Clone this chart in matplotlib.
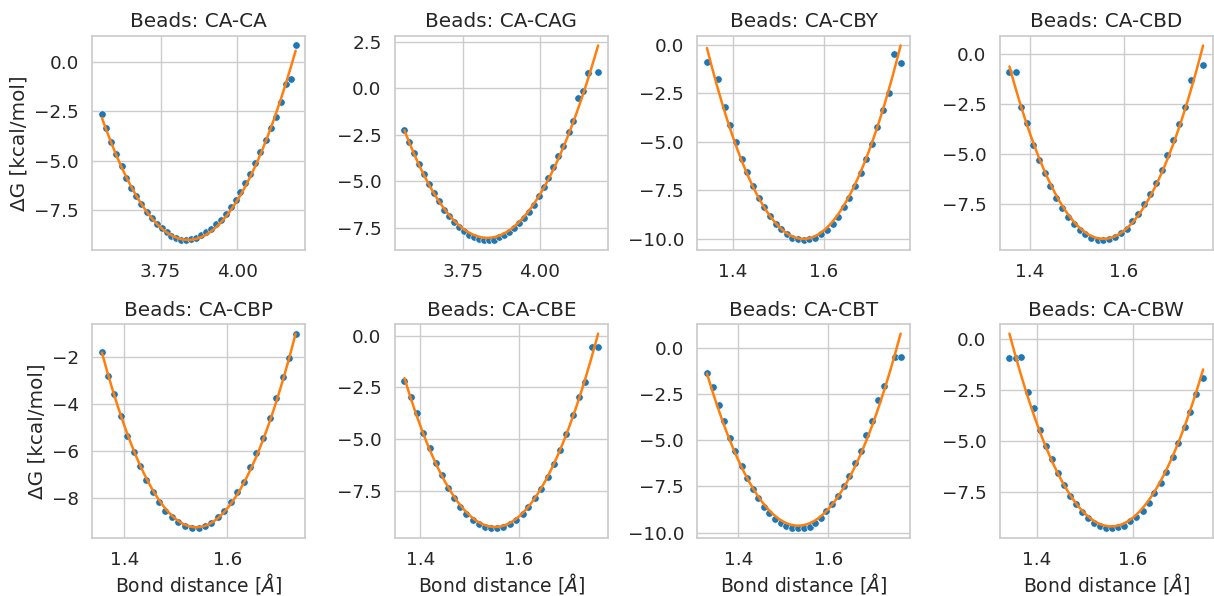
import numpy as np
import matplotlib
matplotlib.use("Agg")
import matplotlib.pyplot as plt
import seaborn as sns

titles = ["CA-CA", "CA-CAG", "CA-CBY", "CA-CBD", "CA-CBP", "CA-CBE", "CA-CBT", "CA-CBW"]

# binned free energy points
x_caca = [3.559, 3.573, 3.590, 3.605, 3.623, 3.638, 3.654, 3.671, 3.687, 3.705,
          3.722, 3.738, 3.754, 3.771, 3.785, 3.801, 3.817, 3.834, 3.850, 3.866,
          3.883, 3.899, 3.914, 3.932, 3.947, 3.963, 3.979, 3.995, 4.010, 4.026,
          4.042, 4.059, 4.075, 4.092, 4.110, 4.127, 4.143, 4.159, 4.175, 4.190]
y_caca = [-2.63, -3.36, -4.07, -4.68, -5.29, -5.86, -6.37, -6.81, -7.22, -7.59,
          -7.93, -8.20, -8.44, -8.64, -8.81, -8.93, -9.02, -9.05, -9.00, -8.92,
          -8.78, -8.64, -8.46, -8.24, -8.00, -7.71, -7.37, -7.00, -6.61, -6.15,
          -5.68, -5.14, -4.58, -3.97, -3.32, -2.76, -2.00, -1.12, -0.85, 0.85]

x_cacag = [3.560, 3.576, 3.592, 3.607, 3.622, 3.641, 3.657, 3.673, 3.689, 3.706,
           3.722, 3.738, 3.754, 3.771, 3.787, 3.803, 3.819, 3.835, 3.852, 3.868,
           3.884, 3.900, 3.917, 3.933, 3.948, 3.964, 3.981, 3.997, 4.013, 4.028,
           4.044, 4.061, 4.077, 4.094, 4.109, 4.124, 4.142, 4.158, 4.190]
y_cacag = [-2.27, -2.92, -3.49, -4.06, -4.62, -5.15, -5.65, -6.08, -6.53, -6.89,
           -7.19, -7.46, -7.69, -7.87, -8.01, -8.10, -8.16, -8.18, -8.14, -8.03,
           -7.91, -7.71, -7.50, -7.26, -6.98, -6.65, -6.28, -5.81, -5.33, -4.83,
           -4.22, -3.65, -3.09, -2.36, -1.75, -0.54, -0.13, 0.84, 0.88]

x_cby = [1.343, 1.368, 1.382, 1.394, 1.407, 1.420, 1.431, 1.444, 1.457, 1.468,
         1.481, 1.494, 1.505, 1.518, 1.530, 1.543, 1.555, 1.568, 1.581, 1.593,
         1.607, 1.619, 1.631, 1.644, 1.655, 1.668, 1.680, 1.692, 1.705, 1.717,
         1.730, 1.742, 1.754, 1.768]
y_cby = [-0.90, -1.79, -3.21, -4.16, -5.03, -5.87, -6.55, -7.26, -7.87, -8.38,
         -8.82, -9.22, -9.49, -9.76, -9.93, -10.02, -10.07, -10.03, -9.93, -9.76,
         -9.53, -9.22, -8.85, -8.38, -7.87, -7.28, -6.63, -5.89, -5.09, -4.23,
         -3.35, -2.47, -0.49, -0.96]

x_cbd = [1.357, 1.370, 1.382, 1.394, 1.407, 1.419, 1.432, 1.444, 1.456, 1.468,
         1.481, 1.494, 1.506, 1.518, 1.531, 1.544, 1.556, 1.568, 1.581, 1.594,
         1.606, 1.618, 1.630, 1.643, 1.656, 1.668, 1.680, 1.692, 1.705, 1.717,
         1.730, 1.742, 1.768]
y_cbd = [-0.90, -0.90, -2.65, -3.43, -4.53, -5.31, -5.94, -6.59, -7.17, -7.69,
         -8.12, -8.50, -8.77, -9.00, -9.17, -9.27, -9.30, -9.23, -9.13, -8.95,
         -8.74, -8.34, -7.99, -7.50, -6.99, -6.42, -5.77, -5.04, -4.29, -3.48,
         -2.65, -1.31, -0.55]

x_cbp = [1.357, 1.368, 1.381, 1.394, 1.405, 1.419, 1.431, 1.443, 1.455, 1.468,
         1.480, 1.493, 1.505, 1.518, 1.531, 1.545, 1.557, 1.569, 1.581, 1.594,
         1.606, 1.619, 1.632, 1.644, 1.656, 1.669, 1.682, 1.694, 1.707, 1.719,
         1.732]
y_cbp = [-1.81, -2.82, -3.58, -4.52, -5.37, -6.04, -6.66, -7.26, -7.74, -8.17,
         -8.55, -8.83, -9.05, -9.22, -9.31, -9.29, -9.22, -9.08, -8.83, -8.56,
         -8.20, -7.77, -7.32, -6.71, -6.10, -5.45, -4.62, -3.75, -2.86, -2.06,
         -1.01]

x_cbe = [1.368, 1.381, 1.393, 1.406, 1.419, 1.431, 1.444, 1.456, 1.468, 1.481,
         1.493, 1.506, 1.518, 1.531, 1.544, 1.556, 1.568, 1.581, 1.594, 1.607,
         1.619, 1.632, 1.645, 1.658, 1.670, 1.683, 1.696, 1.709, 1.721, 1.734,
         1.747, 1.760]
y_cbe = [-2.22, -2.96, -3.76, -4.70, -5.44, -6.16, -6.75, -7.36, -7.86, -8.27,
         -8.62, -8.91, -9.12, -9.28, -9.33, -9.33, -9.25, -9.10, -8.90, -8.61,
         -8.27, -7.87, -7.41, -6.82, -6.21, -5.55, -4.75, -3.84, -2.99, -2.27,
         -0.54, -0.53]

x_cbt = [1.330, 1.343, 1.356, 1.369, 1.381, 1.393, 1.407, 1.419, 1.432, 1.444,
         1.457, 1.469, 1.482, 1.495, 1.507, 1.520, 1.533, 1.545, 1.559, 1.571,
         1.584, 1.596, 1.609, 1.621, 1.634, 1.647, 1.659, 1.673, 1.684, 1.698,
         1.710, 1.724, 1.748, 1.761]
y_cbt = [-1.38, -2.14, -3.08, -3.96, -4.87, -5.58, -6.38, -7.03, -7.64, -8.13,
         -8.60, -8.96, -9.28, -9.50, -9.64, -9.73, -9.77, -9.75, -9.69, -9.50,
         -9.21, -8.85, -8.47, -8.00, -7.50, -6.91, -6.22, -5.58, -4.73, -3.96,
         -2.82, -2.10, -0.52, -0.52]

x_cbw = [1.342, 1.355, 1.367, 1.381, 1.394, 1.406, 1.419, 1.431, 1.444, 1.457,
         1.469, 1.482, 1.495, 1.507, 1.520, 1.532, 1.545, 1.557, 1.570, 1.583,
         1.595, 1.608, 1.621, 1.634, 1.646, 1.659, 1.671, 1.684, 1.696, 1.709,
         1.721, 1.734, 1.748]
y_cbw = [-0.90, -0.90, -0.86, -2.58, -3.38, -4.45, -5.24, -5.89, -6.56, -7.16,
         -7.68, -8.09, -8.47, -8.78, -8.99, -9.18, -9.25, -9.28, -9.23, -9.14,
         -8.92, -8.71, -8.40, -8.01, -7.55, -7.06, -6.49, -5.79, -5.11, -4.29,
         -3.56, -2.68, -1.89]

xs = [x_caca, x_cacag, x_cby, x_cbd, x_cbp, x_cbe, x_cbt, x_cbw]
ys = [y_caca, y_cacag, y_cby, y_cbd, y_cbp, y_cbe, y_cbt, y_cbw]

# harmonic fit parameters: r0 [A], k [kcal/mol/A^2], G0 [kcal/mol]
fit_r0 = [3.840, 3.8295, 1.5548, 1.5566, 1.5397, 1.5512, 1.5330, 1.5554]
fit_k = [78.5, 79.6, 219.0, 216.0, 223.0, 214.5, 199.5, 207.7]
fit_g0 = [-9.03, -8.05, -10.0, -9.23, -9.26, -9.26, -9.62, -9.18]

sns.set_theme(style="whitegrid", font_scale=1.2)
plt.rcParams["font.family"] = ["DejaVu Sans"]

fig, axes = plt.subplots(2, 4, figsize=(12.14, 5.96), dpi=100)
fig.subplots_adjust(left=0.076, right=0.999, top=0.94, bottom=0.097,
                    wspace=0.42, hspace=0.345)

for i, ax in enumerate(axes.flat):
    x = np.array(xs[i])
    y = np.array(ys[i])
    ax.scatter(x, y, s=28, color="#1f77b4", edgecolor="white", linewidth=0.4, zorder=2)
    xf = np.linspace(x.min(), x.max(), 200)
    ax.plot(xf, fit_g0[i] + fit_k[i] * (xf - fit_r0[i]) ** 2,
            color="#ff7f0e", lw=1.8, zorder=3)
    ax.set_title("Beads: " + titles[i])
    if i % 4 == 0:
        ax.set_ylabel("ΔG [kcal/mol]")
    if i >= 4:
        ax.set_xlabel(r"Bond distance [$\AA$]", fontsize=13.5, labelpad=1)

fig.savefig("out.png", dpi=100)
